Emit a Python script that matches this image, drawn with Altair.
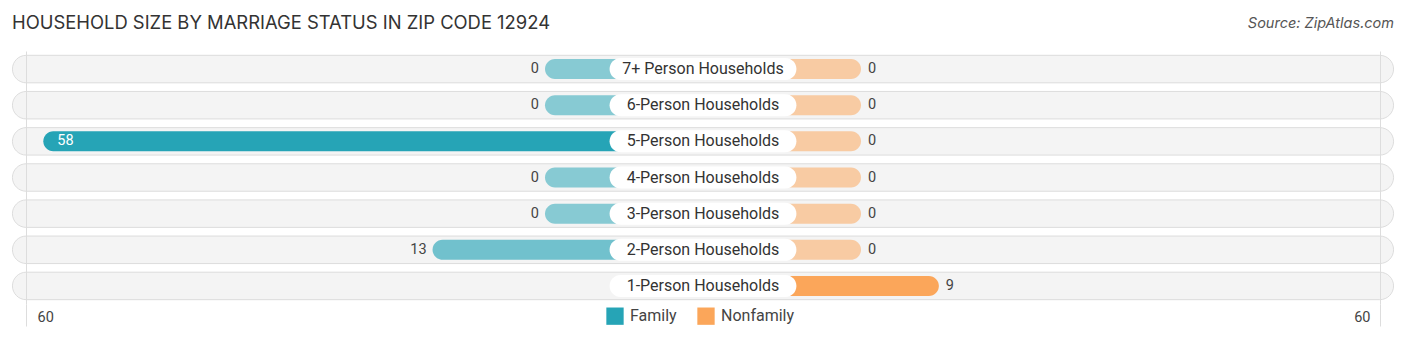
import altair as alt
import pandas as pd

categories = ["7+ Person Households", "6-Person Households", "5-Person Households",
              "4-Person Households", "3-Person Households", "2-Person Households",
              "1-Person Households"]
family = [0, 0, 58, 0, 0, 13, None]
nonfamily = [0, 0, 0, 0, 0, 0, 9]
axis_max = 60

TITLE = "HOUSEHOLD SIZE BY MARRIAGE STATUS IN ZIP CODE 12924"
SOURCE = "Source: ZipAtlas.com"

# layout constants (units of the x scale)
K = 8.65                # px per unit
D = 158 / K             # stub length for zero-valued bars
W = 1382
H = 253
HALF = W / 2 / K
PILL = 10.8

fvals = [v for v in family if v is not None]
fmax = max(fvals) or 1
nmax = max(nonfamily) or 1
df = pd.DataFrame({"category": categories, "family": family, "nonfamily": nonfamily})
df["f_end"] = -(D + df["family"])
df["n_end"] = D + df["nonfamily"]
df["f_op"] = 0.53 + 0.47 * df["family"] / fmax
df["n_op"] = 0.53 + 0.47 * df["nonfamily"] / nmax
df["lo"] = -HALF + 0.05
df["hi"] = HALF - 0.05
df["pl"] = -PILL
df["pr"] = PILL
df["zero"] = 0.0
df["s_f"] = "Family"
df["s_n"] = "Nonfamily"

FONT = "Roboto"
x_scale = alt.Scale(domain=[-HALF, HALF], nice=False, zero=False)
y_enc = alt.Y("category:N", sort=categories, axis=None,
              scale=alt.Scale(paddingInner=0, paddingOuter=0))

base = alt.Chart(df)
fam_base = base.transform_filter("isValid(datum.family)")

x_axis = alt.Axis(
    values=[-(D + axis_max), D + axis_max],
    labelExpr=f"format(abs(datum.value) - {D}, 'd')",
    grid=True, gridColor="#DDDDDD", gridWidth=1,
    ticks=True, tickSize=22, tickColor="#DDDDDD",
    domain=False, title=None,
    labelFont=FONT, labelFontSize=14.5, labelColor="#444444",
    labelPadding=-16,
    labelAlign=alt.ExprRef(expr="datum.value < 0 ? 'left' : 'right'"),
    labelOffset=alt.ExprRef(expr="datum.value < 0 ? 11 : -10"),
    labelBaseline="top",
    zindex=1,
)

bg = base.mark_bar(size=27.5, cornerRadius=13.75, color="#F4F4F4",
                   stroke="#D6D6D6", strokeWidth=0.8).encode(
    x=alt.X("lo:Q", scale=x_scale, axis=x_axis), x2="hi:Q", y=y_enc)

color_scale = alt.Scale(domain=["Family", "Nonfamily"], range=["#26A4B6", "#FBA65A"])
legend = alt.Legend(title=None, orient="none", legendX=594, legendY=256,
                    direction="horizontal", symbolType="square", symbolSize=300,
                    symbolOpacity=1, symbolStrokeWidth=0,
                    labelFont=FONT, labelFontSize=16, labelColor="#444444",
                    labelOffset=6, columnPadding=20)

fam_bar = fam_base.mark_bar(size=20, cornerRadius=10).encode(
    x=alt.X("f_end:Q", scale=x_scale), x2="zero:Q", y=y_enc,
    color=alt.Color("s_f:N", scale=color_scale, legend=legend),
    opacity=alt.Opacity("f_op:Q", scale=None))
non_bar = base.mark_bar(size=20, cornerRadius=10).encode(
    x=alt.X("zero:Q", scale=x_scale), x2="n_end:Q", y=y_enc,
    color=alt.Color("s_n:N", scale=color_scale, legend=legend),
    opacity=alt.Opacity("n_op:Q", scale=None))

pill = base.mark_bar(size=22, cornerRadius=11, color="white").encode(
    x=alt.X("pl:Q", scale=x_scale), x2="pr:Q", y=y_enc)
pill_text = base.mark_text(font=FONT, fontSize=16, color="#333333").encode(
    x=alt.X("zero:Q", scale=x_scale), y=y_enc, text="category:N")

fam_out = fam_base.transform_filter("datum.family < 30").mark_text(
    font=FONT, fontSize=14.5, color="#444444", align="right", dx=-6).encode(
    x=alt.X("f_end:Q", scale=x_scale), y=y_enc, text="family:Q")
fam_in = fam_base.transform_filter("datum.family >= 30").mark_text(
    font=FONT, fontSize=14.5, color="white", align="left", dx=14).encode(
    x=alt.X("f_end:Q", scale=x_scale), y=y_enc, text="family:Q")
non_out = base.mark_text(
    font=FONT, fontSize=14.5, color="#444444", align="left", dx=7).encode(
    x=alt.X("n_end:Q", scale=x_scale), y=y_enc, text="nonfamily:Q")

title = alt.Chart(pd.DataFrame({"t": [TITLE]})).mark_text(
    font="Inter", fontSize=18.4, color="#333333", align="left", baseline="middle").encode(
    x=alt.value(0), y=alt.value(-28), text="t:N")
source = alt.Chart(pd.DataFrame({"t": [SOURCE]})).mark_text(
    font="Inter", fontSize=14.5, fontStyle="italic", color="#555555",
    align="right", baseline="middle").encode(
    x=alt.value(W), y=alt.value(-27), text="t:N")

chart = alt.layer(bg, fam_bar, non_bar, pill, pill_text, fam_out, fam_in, non_out,
                  title, source).properties(
    width=W, height=H,
    autosize=alt.AutoSizeParams(type="none"),
    padding={"left": 12, "top": 51, "right": 12, "bottom": 37},
).configure_view(stroke=None)

chart.save("out.html", embed_options={"renderer": "svg", "actions": False})
